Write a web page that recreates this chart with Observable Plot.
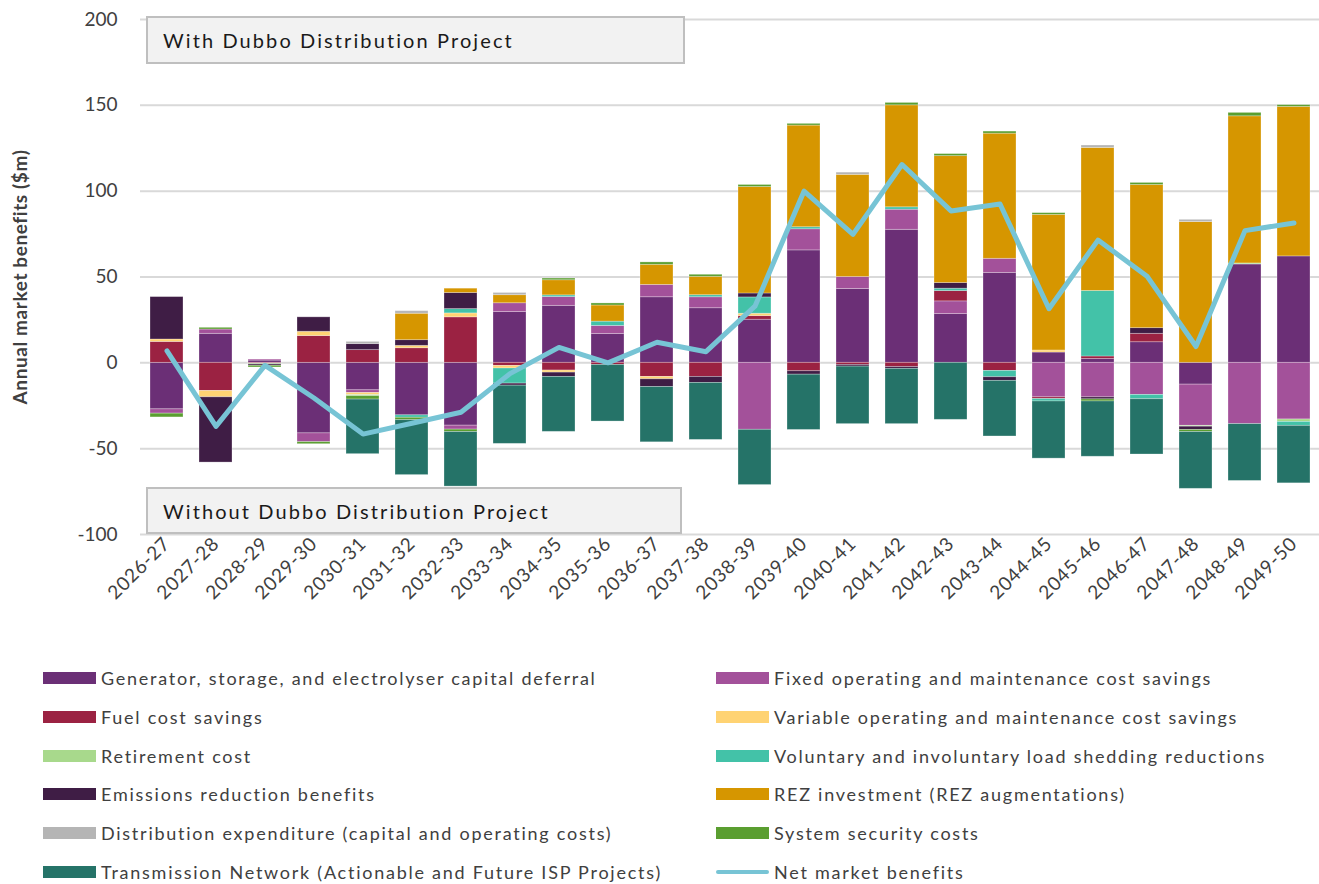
<!DOCTYPE html>
<html>
<head>
<meta charset="utf-8">
<script src="https://cdn.jsdelivr.net/npm/d3@7"></script>
<script src="https://cdn.jsdelivr.net/npm/@observablehq/plot@0.6"></script>
<style>
  body { margin: 0; background: #fff; font-family: Lato, "Open Sans", sans-serif; }
  #wrap { position: relative; width: 1319px; height: 884px; }
  .box { position: absolute; background: #F2F2F2; border: 2px solid #BFBFBF; box-sizing: border-box;
         font-size: 20px; color: #1a1a1a; padding-left: 15px; display: flex; align-items: center; letter-spacing: 2.1px; }
  .leg { position: absolute; display: flex; align-items: center; font-size: 18px; color: #404040; letter-spacing: 1.75px; white-space: nowrap; }
  .sw { width: 53px; height: 12px; margin-right: 5px; flex: none; }
  .swl { width: 53px; height: 4px; margin-right: 5px; flex: none; border-radius: 2px; }
</style>
</head>
<body>
<div id="wrap"></div>
<script>
const years = ["2026-27","2027-28","2028-29","2029-30","2030-31","2031-32","2032-33","2033-34","2034-35","2035-36","2036-37","2037-38","2038-39","2039-40","2040-41","2041-42","2042-43","2043-44","2044-45","2045-46","2046-47","2047-48","2048-49","2049-50"];

const seriesNames = [
  "Generator, storage, and electrolyser capital deferral",
  "Fixed operating and maintenance cost savings",
  "Fuel cost savings",
  "Variable operating and maintenance cost savings",
  "Retirement cost",
  "Voluntary and involuntary load shedding reductions",
  "Emissions reduction benefits",
  "REZ investment (REZ augmentations)",
  "Distribution expenditure (capital and operating costs)",
  "System security costs",
  "Transmission Network (Actionable and Future ISP Projects)"
];
const netName = "Net market benefits";
const seriesColors = ["#6B2F76","#A3519A","#9B2242","#FFD373","#A8D98C","#43C2A8","#3F1D45","#D69600","#B5B5B5","#5A9E30","#257368"];
const netColor = "#77C4D5";

const generator    = [-27.1, 16.9, 1.3, -41.1, -16.0, -30.6, -36.6, 29.6, 33.2, 16.8, 38.2, 31.8, 25.1, 65.5, 43.0, 77.5, 28.4, 52.4, 6.0, 2.3, 12.0, -12.7, 57.3, 62.0];
const fixedOM      = [-2.5, 2.5, 0.6, -5.1, -1.6, 0, -2.3, 5.1, 5.1, 4.7, 7.2, 6.4, -39.0, 12.3, 7.0, 11.7, 7.4, 8.2, -20.1, -20.1, -18.7, -24.0, -35.7, -33.0];
const fuel         = [12.2, -16.4, -0.4, 15.6, 7.4, 8.5, 26.5, -1.8, -4.5, -1.2, -8.2, -8.2, 2.1, -4.9, -1.2, -2.5, 6.0, -4.7, -1.0, 1.4, 4.9, 0, 0, 0];
const variableOM   = [1.4, -3.7, 0, 2.5, -1.2, 1.4, 2.3, -1.5, -1.2, 0, -1.4, 0, 1.4, 0, 0, 0, 0, 0, 1.2, 0, 0, 0, 0, 0];
const retirement   = [0, 0, -0.5, 0, -0.6, 0, 0, 0, 0, 0, 0, 0, 0, 0, 0, 0, 0, 0, 0, 0, 0, -0.5, 0.6, -1.4];
const loadShedding = [0, 0, 0, 0, 0, -1.4, 2.5, -8.8, 1.0, 2.5, 0, 1.2, 9.5, 1.2, 0, 1.4, 1.4, -3.7, -1.4, 38.2, -2.5, 0, 0, -2.3];
const emissions    = [24.7, -38.0, -0.8, 8.4, 3.5, 3.3, 9.4, -1.2, -2.5, 0, -4.5, -3.5, 2.3, -2.0, -1.0, -1.0, 3.3, -2.1, 0, -1.2, 3.3, -1.9, 0, 0];
const rez          = [0, 0, 0, 0, 0, 15.4, 2.5, 4.7, 8.8, 9.4, 11.7, 10.7, 62.0, 59.2, 59.5, 59.4, 73.9, 72.9, 79.0, 83.3, 83.4, 82.0, 85.7, 87.1];
const distribution = [0, 0, 0, 0, 1.3, 1.5, 0, 1.3, 0, 0, 0, 0, 0, 0, 1.3, 0, 0, 0, 0, 1.4, 0, 1.3, 0, 0];
const security     = [-2.2, 1.0, -1.0, -1.2, -2.0, -1.4, -1.4, 0, 1.0, 1.2, 1.4, 1.2, 1.2, 1.0, 0, 1.4, 1.2, 1.2, 1.0, -1.2, 1.2, -1.2, 2.0, 1.0];
const transmission = [0, 0, 0, 0, -31.8, -32.0, -31.8, -33.9, -32.0, -33.0, -32.2, -33.2, -32.2, -32.2, -33.5, -32.2, -33.2, -32.4, -33.3, -32.2, -32.2, -33.1, -33.1, -33.5];
const netBenefits  = [7, -37, -1.5, -20.5, -41.5, -35.2, -28.8, -6.3, 9, 0, 12, 6.5, 33, 100, 74.8, 115.5, 88.5, 92.5, 31.5, 71.5, 50.5, 9.5, 77, 81.5];

const yTicks = [-100, -50, 0, 50, 100, 150, 200];

const seriesValues = [generator, fixedOM, fuel, variableOM, retirement, loadShedding, emissions, rez, distribution, security, transmission];
const barData = [];
seriesValues.forEach((vals, si) => {
  vals.forEach((v, i) => barData.push({year: years[i], series: seriesNames[si], value: v}));
});
const netData = years.map((y, i) => ({year: y, value: netBenefits[i]}));

const chart = Plot.plot({
  width: 1319,
  height: 630,
  marginTop: 19,
  marginBottom: 96,
  marginLeft: 140,
  marginRight: 0,
  style: {fontFamily: "Lato, 'Open Sans', sans-serif", fontSize: "18px", color: "#404040", background: "white", overflow: "visible"},
  x: {domain: years, paddingInner: 0.33, paddingOuter: 0.165, label: null},
  y: {domain: [-100, 200], label: null},
  color: {domain: seriesNames, range: seriesColors},
  marks: [
    Plot.gridY(yTicks, {stroke: "#D9D9D9", strokeOpacity: 1, strokeWidth: 2}),
    Plot.barY(barData, {x: "year", y: "value", fill: "series", stroke: "#ffffff", strokeOpacity: 0.35, strokeWidth: 0.8}),
    Plot.lineY(netData, {x: "year", y: "value", stroke: netColor, strokeWidth: 5, strokeLinejoin: "round", strokeLinecap: "round"}),
    Plot.axisY(yTicks, {tickSize: 0, tickPadding: 23, fontSize: 19, label: null, tickFormat: d => String(d), className: "yax"}),
    Plot.axisX({tickRotate: -45, tickSize: 0, tickPadding: 6, fontSize: 19, label: null, className: "xax"}),
    Plot.text(["Annual market benefits ($m)"], {frameAnchor: "left", textAnchor: "middle", dx: -120, rotate: -90, fontWeight: "bold", fontSize: 19, fill: "#404040", className: "ylab"})
  ]
});

d3.select(chart).selectAll(".xax text").attr("letter-spacing", "0.8px");
d3.select(chart).selectAll(".ylab text").attr("letter-spacing", "0.6px");

const wrap = document.getElementById("wrap");
wrap.appendChild(chart);

function addBox(text, left, top, w, h) {
  const d = document.createElement("div");
  d.className = "box";
  d.style.left = left + "px"; d.style.top = top + "px";
  d.style.width = w + "px"; d.style.height = h + "px";
  d.textContent = text;
  wrap.appendChild(d);
}
addBox("With Dubbo Distribution Project", 146, 16, 539, 48);
addBox("Without Dubbo Distribution Project", 146, 487, 536, 47);

// legend (row-wise, two columns)
const legendItems = seriesNames.map((n, i) => ({name: n, color: seriesColors[i], line: false}));
legendItems.push({name: netName, color: netColor, line: true});
legendItems.forEach((it, i) => {
  const col = i % 2, row = Math.floor(i / 2);
  const d = document.createElement("div");
  d.className = "leg";
  d.style.left = (col === 0 ? 43 : 716) + "px";
  d.style.top = (666 + row * 38.8) + "px";
  d.style.height = "24px";
  const sw = document.createElement("span");
  sw.className = it.line ? "swl" : "sw";
  sw.style.background = it.color;
  const t = document.createElement("span");
  t.textContent = it.name;
  d.appendChild(sw); d.appendChild(t);
  wrap.appendChild(d);
});
</script>
</body>
</html>
